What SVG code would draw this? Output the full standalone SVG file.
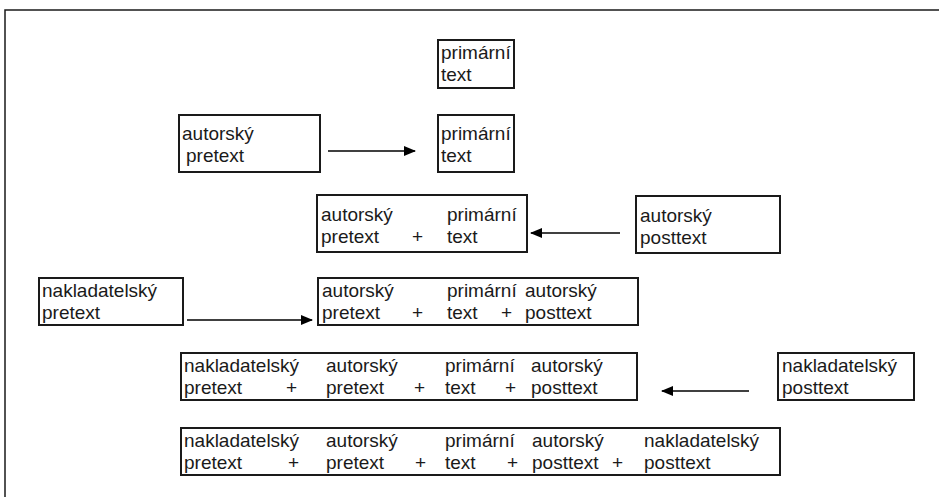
<svg xmlns="http://www.w3.org/2000/svg" width="939" height="497" viewBox="0 0 939 497">
<defs>
<marker id="ah" markerWidth="12" markerHeight="10" refX="11" refY="5" orient="auto" markerUnits="userSpaceOnUse">
<path d="M0,0 L12,5 L0,10 Z" fill="#000"/>
</marker>
<style>
.box{fill:#fff;stroke:#1a1a1a;stroke-width:2}
.frame{fill:none;stroke:#1a1a1a;stroke-width:1.5}
.arr{stroke:#000;stroke-width:1.3;fill:none;marker-end:url(#ah)}
text{font-family:"Liberation Sans",Arial,sans-serif;font-size:19px;fill:#1a1a1a}
</style>
</defs>
<rect width="939" height="497" fill="#fff"/>
<path class="frame" d="M5,497 L5,10 L939,10"/>

<g id="nodeA">
<rect class="box" x="438" y="40" width="76" height="48"/>
<text x="441" y="59">primární</text>
<text x="441" y="81">text</text>
</g>

<g id="nodeB">
<rect class="box" x="179" y="115" width="141" height="57"/>
<text x="182" y="140">autorský</text>
<text x="186" y="162">pretext</text>
</g>

<g id="nodeC">
<rect class="box" x="438" y="115" width="76" height="57"/>
<text x="441" y="140">primární</text>
<text x="441" y="162">text</text>
</g>

<g id="nodeD">
<rect class="box" x="317" y="195" width="210" height="57"/>
<text x="321" y="221">autorský</text>
<text x="321" y="243">pretext</text>
<text x="412" y="243">+</text>
<text x="447" y="221">primární</text>
<text x="447" y="243">text</text>
</g>

<g id="nodeE">
<rect class="box" x="636" y="196" width="144" height="57"/>
<text x="640" y="222">autorský</text>
<text x="640" y="244">posttext</text>
</g>

<g id="nodeF">
<rect class="box" x="39" y="278" width="144" height="47"/>
<text x="42" y="297">nakladatelský</text>
<text x="42" y="319">pretext</text>
</g>

<g id="nodeG">
<rect class="box" x="318" y="278" width="320" height="47"/>
<text x="322" y="297">autorský</text>
<text x="322" y="319">pretext</text>
<text x="412" y="319">+</text>
<text x="447" y="297">primární</text>
<text x="447" y="319">text</text>
<text x="501" y="319">+</text>
<text x="525" y="297">autorský</text>
<text x="525" y="319">posttext</text>
</g>

<g id="nodeH">
<rect class="box" x="181" y="353" width="456" height="47"/>
<text x="184" y="372">nakladatelský</text>
<text x="184" y="394">pretext</text>
<text x="286" y="394">+</text>
<text x="326" y="372">autorský</text>
<text x="326" y="394">pretext</text>
<text x="414" y="394">+</text>
<text x="445" y="372">primární</text>
<text x="445" y="394">text</text>
<text x="505" y="394">+</text>
<text x="531" y="372">autorský</text>
<text x="531" y="394">posttext</text>
</g>

<g id="nodeI">
<rect class="box" x="778" y="353" width="136" height="47"/>
<text x="782" y="372">nakladatelský</text>
<text x="782" y="394">posttext</text>
</g>

<g id="nodeJ">
<rect class="box" x="181" y="428" width="599" height="47"/>
<text x="184" y="447">nakladatelský</text>
<text x="184" y="469">pretext</text>
<text x="288" y="469">+</text>
<text x="326" y="447">autorský</text>
<text x="326" y="469">pretext</text>
<text x="415" y="469">+</text>
<text x="445" y="447">primární</text>
<text x="445" y="469">text</text>
<text x="507" y="469">+</text>
<text x="532" y="447">autorský</text>
<text x="532" y="469">posttext</text>
<text x="612" y="469">+</text>
<text x="644" y="447">nakladatelský</text>
<text x="644" y="469">posttext</text>
</g>

<g id="connectors">
<line class="arr" x1="328" y1="151" x2="415" y2="151"/>
<line class="arr" x1="620" y1="233" x2="531" y2="233"/>
<line class="arr" x1="187" y1="320" x2="312" y2="320"/>
<line class="arr" x1="749" y1="391" x2="662" y2="391"/>
</g>
</svg>
